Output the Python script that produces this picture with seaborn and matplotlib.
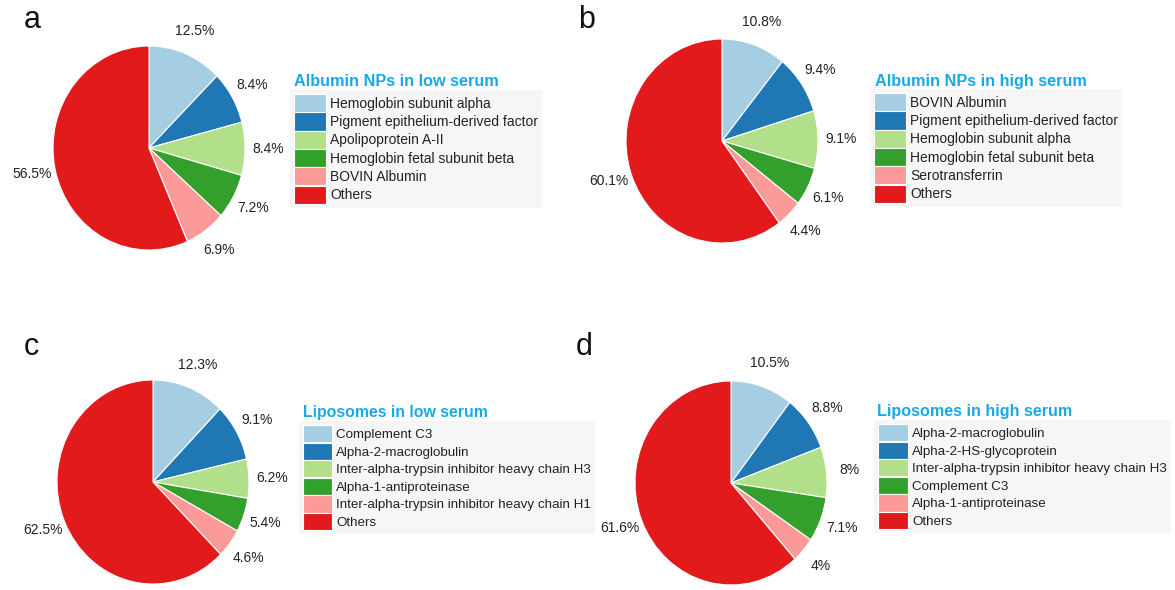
import matplotlib
matplotlib.use("Agg")
import matplotlib.pyplot as plt
import seaborn as sns

sns.set_theme(style="white")
plt.rcParams["font.family"] = ["Liberation Sans", "DejaVu Sans"]

# Protein corona composition (% of total abundance)
letters = ["a", "b", "c", "d"]
titles = [
    "Albumin NPs in low serum",
    "Albumin NPs in high serum",
    "Liposomes in low serum",
    "Liposomes in high serum",
]
proteins_a = ["Hemoglobin subunit alpha", "Pigment epithelium-derived factor",
              "Apolipoprotein A-II", "Hemoglobin fetal subunit beta",
              "BOVIN Albumin", "Others"]
values_a = [12.5, 8.4, 8.4, 7.2, 6.9, 56.5]

proteins_b = ["BOVIN Albumin", "Pigment epithelium-derived factor",
              "Hemoglobin subunit alpha", "Hemoglobin fetal subunit beta",
              "Serotransferrin", "Others"]
values_b = [10.8, 9.4, 9.1, 6.1, 4.4, 60.1]

proteins_c = ["Complement C3", "Alpha-2-macroglobulin",
              "Inter-alpha-trypsin inhibitor heavy chain H3",
              "Alpha-1-antiproteinase",
              "Inter-alpha-trypsin inhibitor heavy chain H1", "Others"]
values_c = [12.3, 9.1, 6.2, 5.4, 4.6, 62.5]

proteins_d = ["Alpha-2-macroglobulin", "Alpha-2-HS-glycoprotein",
              "Inter-alpha-trypsin inhibitor heavy chain H3",
              "Complement C3", "Alpha-1-antiproteinase", "Others"]
values_d = [10.5, 8.8, 8, 7.1, 4, 61.6]

colors = sns.color_palette("Paired", 6)

W, H = 1175, 590
fig = plt.figure(figsize=(W / 100, H / 100), dpi=100)
fig.patch.set_facecolor("white")

RX, RY = 96, 102  # pie radii in pixels
LIM = 1.5


def px_axes(cx, cy):
    w, h = 2 * LIM * RX, 2 * LIM * RY
    return fig.add_axes([(cx - w / 2) / W, (H - cy - h / 2) / H, w / W, h / H])


def panel(letter, title, names, values, center, letter_xy, title_xy,
          legend_xy, fs, title_fs, hlen, hheight):
    ax = px_axes(*center)
    ax.set_zorder(6)  # keep percentage labels above neighbouring key boxes
    wedges, texts = ax.pie(
        values,
        labels=[f"{v:g}%" for v in values],
        labeldistance=1.24,
        startangle=90,
        counterclock=False,
        colors=colors,
        wedgeprops=dict(edgecolor="white", linewidth=0.8),
        textprops=dict(fontsize=10, color="#222222"),
    )
    for t in texts:
        t.set_ha("center")
        t.set_va("center")
    ax.set_aspect("auto")
    ax.set_xlim(-LIM, LIM)
    ax.set_ylim(-LIM, LIM)
    ax.axis("off")

    # legend title drawn above the shaded key box
    fig.text(title_xy[0] / W, 1 - title_xy[1] / H, title,
             fontsize=title_fs, fontweight="bold", color="#19a9e6",
             ha="left", va="baseline")

    leg = fig.legend(
        wedges, names,
        loc="upper left",
        bbox_to_anchor=(legend_xy[0] / W, 1 - legend_xy[1] / H),
        bbox_transform=fig.transFigure,
        frameon=True, fancybox=False, framealpha=1,
        facecolor="#f6f6f6", edgecolor="none",
        fontsize=fs, handlelength=hlen, handleheight=hheight,
        labelspacing=0.02, handletextpad=0.3, borderpad=0.3,
        borderaxespad=0,
    )
    for t in leg.get_texts():
        t.set_color("#222222")

    fig.text(letter_xy[0] / W, 1 - letter_xy[1] / H, letter,
             fontsize=22, color="#111111", va="baseline", ha="left")


panel(letters[0], titles[0], proteins_a, values_a, (149, 148), (24, 28),
      (294, 86), (290, 90), 10, 11.7, 2.3, 1.62)
panel(letters[1], titles[1], proteins_b, values_b, (722, 141), (578, 28),
      (875, 86), (870, 89), 10, 11.7, 2.3, 1.62)
panel(letters[2], titles[2], proteins_c, values_c, (153, 482), (24, 355),
      (303, 417), (299, 421), 9.6, 11.45, 2.18, 1.62)
panel(letters[3], titles[3], proteins_d, values_d, (731, 483), (576, 355),
      (877, 416), (874, 420), 9.6, 11.6, 2.25, 1.62)

fig.savefig("out.png", dpi=100)
